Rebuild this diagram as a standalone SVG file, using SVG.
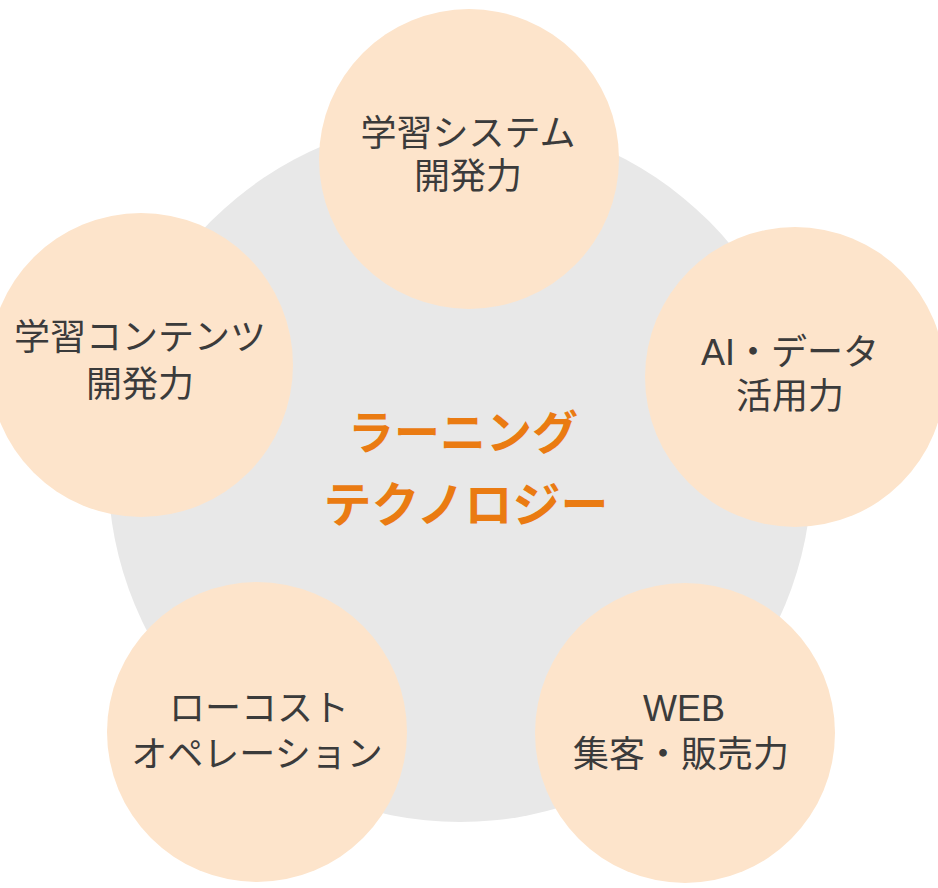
<svg xmlns="http://www.w3.org/2000/svg" width="938" height="888" viewBox="0 0 938 888">
<style>
.node{fill:#FDE4CB}
.lbl{font-family:"Liberation Sans","Noto Sans CJK JP",sans-serif;font-size:36px;fill:#3b3b3b;text-anchor:middle}
.ctr{font-family:"Liberation Sans","Noto Sans CJK JP",sans-serif;font-weight:bold;fill:#EA7B12;text-anchor:middle}
</style>
<rect width="938" height="888" fill="#ffffff"/>
<g id="center">
<circle cx="460" cy="470" r="352" fill="#E8E8E8"/>
<text class="ctr" x="463" y="449" font-size="46">ラーニング</text>
<text class="ctr" x="466" y="522" font-size="48">テクノロジー</text>
</g>
<g id="connectors"></g>
<g id="node-system">
<circle class="node" cx="469" cy="159" r="150"/>
<text class="lbl" x="468" y="146">学習システム</text>
<text class="lbl" x="468" y="189">開発力</text>
</g>
<g id="node-contents">
<circle class="node" cx="141" cy="365" r="152"/>
<text class="lbl" x="140" y="350">学習コンテンツ</text>
<text class="lbl" x="140" y="397">開発力</text>
</g>
<g id="node-ai">
<circle class="node" cx="795" cy="377" r="150"/>
<text class="lbl" x="790" y="365">AI・データ</text>
<text class="lbl" x="790" y="409">活用力</text>
</g>
<g id="node-lowcost">
<circle class="node" cx="257" cy="732" r="150"/>
<text class="lbl" x="259" y="721">ローコスト</text>
<text class="lbl" x="257" y="767">オペレーション</text>
</g>
<g id="node-web">
<circle class="node" cx="685" cy="733" r="150"/>
<text class="lbl" x="684" y="721">WEB</text>
<text class="lbl" x="681" y="767">集客・販売力</text>
</g>
</svg>
